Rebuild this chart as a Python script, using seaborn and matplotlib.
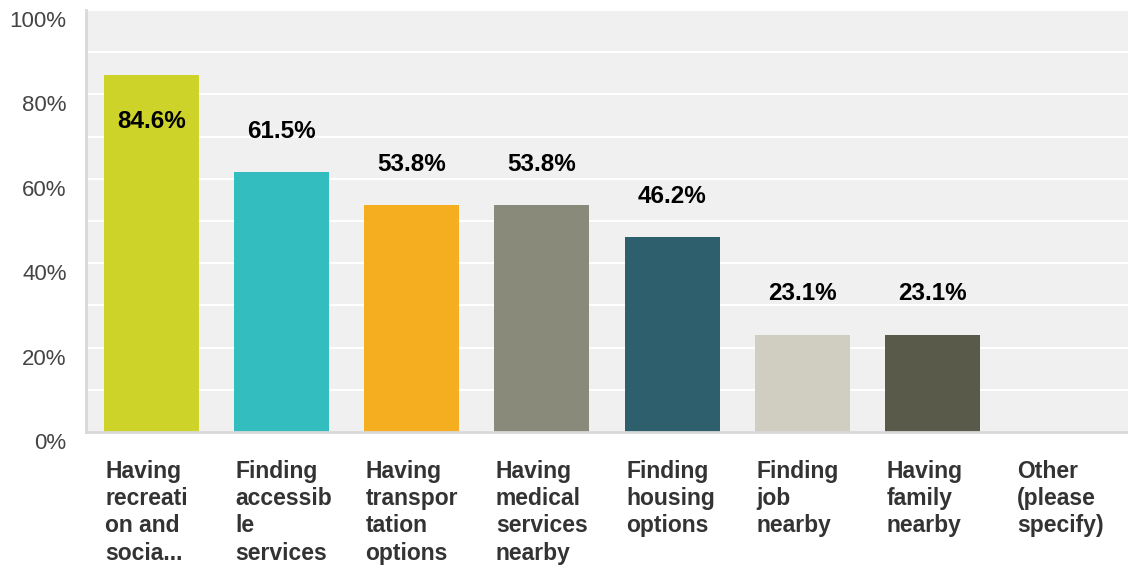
import matplotlib.pyplot as plt
import matplotlib.transforms as mtransforms
import seaborn as sns
import pandas as pd

# dữ liệu
categories = ['Having\nrecreati\non and\nsocia...', 'Finding\naccessib\nle\nservices',
              'Having\ntranspor\ntation\noptions', 'Having\nmedical\nservices\nnearby',
              'Finding\nhousing\noptions', 'Finding\njob\nnearby', 'Having\nfamily\nnearby',
              'Other\n(please\nspecify)']
values = [84.6, 61.5, 53.8, 53.8, 46.2, 23.1, 23.1, 0.0]
bar_colors = ['#CDD329', '#33BDBE', '#F5AE1F', '#898A79', '#2E5F6C', '#CFCEC0', '#5A5A4A', '#F0F0F0']
y_ticks = [0, 20, 40, 60, 80, 100]

df = pd.DataFrame({'cat': categories, 'val': values})

sns.set_theme(style="white")
plt.rcParams['font.family'] = ['Liberation Sans', 'DejaVu Sans']

fig = plt.figure(figsize=(11.28, 5.67), dpi=100)
ax = fig.add_axes([86 / 1128, 1 - 432 / 567, 1 - 86 / 1128, 422 / 567])
ax.set_facecolor('#F0F0F0')

sns.barplot(data=df, x='cat', y='val', hue='cat', palette=bar_colors, legend=False,
            width=0.73, saturation=1, linewidth=0, ax=ax, zorder=3)

ax.set_ylim(0, 100)
ax.set_xlim(-0.5, len(categories) - 0.5)
ax.yaxis.grid(True, color='white', linewidth=1.5, zorder=0)
ax.set_axisbelow(True)
ax.set_yticks(range(0, 101, 10))
ax.set_yticklabels([f'{v}%' if v in y_ticks else '' for v in range(0, 101, 10)],
                   fontsize=16, color='#444444')
ax.tick_params(axis='y', length=0, pad=14)
ax.tick_params(axis='x', length=0, pad=20)
ax.set_xlabel('')
ax.set_ylabel('')

# nhãn trục y lệch xuống dưới đường lưới
for lab in ax.get_yticklabels():
    lab.set_transform(lab.get_transform() + mtransforms.ScaledTranslation(0, -0.09, fig.dpi_scale_trans))

# nhãn trục x căn trái theo mép cột
ax.set_xticks(range(len(categories)))
ax.set_xticklabels(categories, fontsize=16.5, fontweight='bold', color='#333333',
                   ha='left', va='top', linespacing=1.24)
for lab in ax.get_xticklabels():
    lab.set_transform(lab.get_transform() + mtransforms.ScaledTranslation(-0.46, 0, fig.dpi_scale_trans))

for side in ['top', 'right']:
    ax.spines[side].set_visible(False)
for side in ['left', 'bottom']:
    ax.spines[side].set_color('#D8D8D8')
    ax.spines[side].set_linewidth(2)
    ax.spines[side].set_zorder(4)

# nhãn giá trị
for i, v in enumerate(values):
    if v <= 0:
        continue
    if v > 80:
        ax.annotate(f'{v:.1f}%', (i, v), xytext=(0, -42), textcoords='offset points',
                    ha='center', va='bottom', fontsize=17.5, fontweight='bold', color='#000000')
    else:
        ax.annotate(f'{v:.1f}%', (i, v), xytext=(0, 21), textcoords='offset points',
                    ha='center', va='bottom', fontsize=17.5, fontweight='bold', color='#000000')

fig.savefig('out.png', dpi=100)
